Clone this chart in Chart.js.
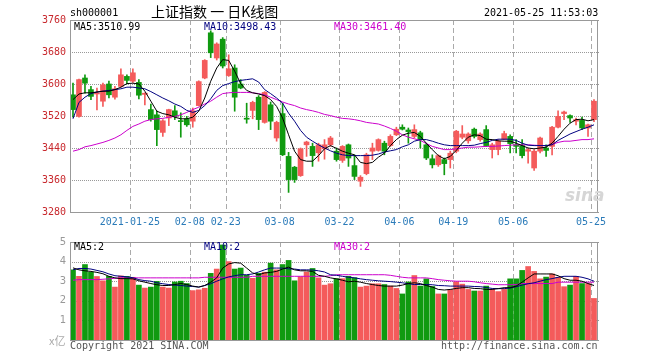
<!DOCTYPE html>
<html>
<head>
<meta charset="utf-8">
<script src="https://cdn.jsdelivr.net/npm/chart.js@4.4.1/dist/chart.umd.min.js"></script>
<style>
body{margin:0;background:#fff;}
#wrap{position:relative;width:660px;height:360px;overflow:hidden;font-family:"DejaVu Sans Mono",monospace;font-size:10px;}
#wrap canvas{position:absolute;left:0;}
.t{position:absolute;white-space:pre;line-height:10px;z-index:2;}
</style>
</head>
<body>
<div id="wrap">
  <canvas id="kChart" width="660" height="232" style="top:0"></canvas>
  <canvas id="volChart" width="660" height="128" style="top:232px"></canvas>

  <div class="t" style="left:70px;top:8px;color:#000">sh000001</div>
  <div class="t" style="left:151px;top:4px;line-height:14px;font-size:14px;font-family:'Noto Sans CJK SC',sans-serif;color:#000">上证指数 一 日K线图</div>
  <div class="t" style="left:484px;top:8px;color:#000">2021-05-25 11:53:03</div>

  <div class="t" style="left:74px;top:22px;color:#000">MA5:3510.99</div>
  <div class="t" style="left:204px;top:22px;color:#000080">MA10:3498.43</div>
  <div class="t" style="left:334px;top:22px;color:#cc00cc">MA30:3461.40</div>

  <div class="t" style="left:565px;top:187px;font:italic bold 17px 'DejaVu Sans',sans-serif;line-height:17px;color:#d6d6d6">sina</div>

  <div class="t" style="left:74px;top:242px;color:#000">MA5:2</div>
  <div class="t" style="left:204px;top:242px;color:#000080">MA10:2</div>
  <div class="t" style="left:334px;top:242px;color:#cc00cc">MA30:2</div>

  <div class="t" style="left:49px;top:335px;font-size:11px;line-height:11px;font-family:'Noto Sans CJK SC',sans-serif;color:#aaa">x亿</div>
  <div class="t" style="left:70px;top:341px;color:#555">Copyright 2021 SINA.COM</div>
  <div class="t" style="left:441px;top:341px;color:#555">http://finance.sina.com.cn</div>
</div>

<script>
/* 交易日 */
const dates = [
  "2021-01-11","2021-01-12","2021-01-13","2021-01-14","2021-01-15","2021-01-18","2021-01-19","2021-01-20","2021-01-21","2021-01-22",
  "2021-01-25","2021-01-26","2021-01-27","2021-01-28","2021-01-29","2021-02-01","2021-02-02","2021-02-03","2021-02-04","2021-02-05",
  "2021-02-08","2021-02-09","2021-02-10","2021-02-18","2021-02-19","2021-02-22","2021-02-23","2021-02-24","2021-02-25","2021-02-26",
  "2021-03-01","2021-03-02","2021-03-03","2021-03-04","2021-03-05","2021-03-08","2021-03-09","2021-03-10","2021-03-11","2021-03-12",
  "2021-03-15","2021-03-16","2021-03-17","2021-03-18","2021-03-19","2021-03-22","2021-03-23","2021-03-24","2021-03-25","2021-03-26",
  "2021-03-29","2021-03-30","2021-03-31","2021-04-01","2021-04-02","2021-04-06","2021-04-07","2021-04-08","2021-04-09","2021-04-12",
  "2021-04-13","2021-04-14","2021-04-15","2021-04-16","2021-04-19","2021-04-20","2021-04-21","2021-04-22","2021-04-23","2021-04-26",
  "2021-04-27","2021-04-28","2021-04-29","2021-04-30","2021-05-06","2021-05-07","2021-05-10","2021-05-11","2021-05-12","2021-05-13",
  "2021-05-14","2021-05-17","2021-05-18","2021-05-19","2021-05-20","2021-05-21","2021-05-24","2021-05-25"
];
const markDates = ["2021-01-25","2021-02-08","2021-02-23","2021-03-08","2021-03-22","2021-04-06","2021-04-19","2021-05-06","2021-05-25"];

/* K线 */
const opens = [
  3573,3519,3615,3586,3575,3557,3600,3567,3594,3619, 3607,3604,3574,3536,3523,3479,3515,3533,3508,3513,
  3507,3546,3615,3728,3665,3712,3621,3640,3600,3514, 3534,3567,3504,3548,3465,3526,3419,3392,3371,3448,
  3444,3428,3438,3448,3432,3409,3448,3396,3357,3376, 3432,3434,3452,3446,3473,3492,3485,3469,3478,3448,
  3413,3398,3411,3411,3432,3467,3458,3487,3461,3486, 3436,3436,3462,3469,3448,3446,3432,3390,3432,3440,
  3444,3492,3526,3521,3507,3509,3490,3511
];
const highs = [
  3602,3612,3623,3594,3590,3602,3607,3594,3638,3623, 3638,3611,3578,3550,3532,3511,3537,3546,3528,3519,
  3540,3608,3661,3733,3703,3716,3673,3648,3611,3552, 3557,3571,3581,3555,3507,3552,3429,3394,3440,3457,
  3452,3452,3461,3469,3440,3446,3450,3423,3371,3427, 3452,3463,3457,3473,3492,3498,3490,3498,3482,3452,
  3423,3423,3415,3432,3484,3496,3478,3490,3478,3496, 3452,3461,3482,3473,3461,3461,3440,3436,3467,3448,
  3494,3533,3532,3523,3515,3517,3500,3561
];
const lows = [
  3517,3517,3577,3561,3535,3544,3565,3562,3592,3600, 3604,3563,3548,3507,3446,3469,3496,3511,3467,3494,
  3492,3545,3613,3666,3660,3640,3619,3532,3588,3502, 3513,3486,3502,3486,3457,3421,3329,3354,3369,3419,
  3394,3407,3412,3444,3407,3404,3394,3361,3344,3373, 3411,3432,3423,3444,3471,3485,3452,3465,3440,3411,
  3390,3394,3373,3390,3428,3463,3452,3465,3457,3444, 3415,3423,3461,3428,3428,3415,3402,3384,3428,3419,
  3423,3490,3511,3504,3498,3486,3469,3506
];
const closes = [
  3536,3611,3602,3569,3578,3598,3573,3588,3623,3609, 3628,3572,3577,3511,3486,3508,3536,3519,3506,3498,
  3533,3606,3659,3678,3700,3645,3638,3567,3590,3512, 3554,3511,3579,3507,3504,3423,3361,3361,3438,3455,
  3421,3448,3448,3465,3411,3444,3415,3369,3367,3423, 3440,3461,3432,3469,3487,3487,3481,3486,3461,3415,
  3398,3421,3401,3427,3482,3475,3475,3469,3475,3446, 3448,3457,3476,3451,3444,3421,3436,3432,3465,3434,
  3492,3519,3530,3515,3511,3490,3498,3557
];

/* 均线 */
const ma5 = [
  3561,3575,3578,3578,3580,3582,3582,3586,3592,3601, 3602,3600,3582,3557,3532,3526,3523,3517,3513,3513,
  3517,3532,3565,3607,3640,3661,3659,3632,3601,3584, 3578,3575,3571,3561,3544,3515,3473,3432,3411,3407,
  3407,3421,3438,3446,3439,3432,3427,3423,3404,3401, 3404,3417,3427,3446,3461,3472,3477,3479,3469,3452,
  3436,3421,3413,3419,3434,3452,3467,3473,3471,3462, 3461,3458,3457,3457,3452,3446,3440,3438,3440,3442,
  3452,3469,3487,3502,3511,3512,3508,3511
];
const ma10 = [
  3513,3554,3567,3576,3580,3582,3584,3586,3588,3592, 3592,3590,3588,3581,3573,3565,3558,3550,3544,3534,
  3529,3534,3546,3563,3584,3596,3601,3606,3609,3611, 3613,3605,3586,3576,3565,3552,3527,3507,3484,3467,
  3457,3448,3440,3433,3427,3423,3421,3421,3421,3421, 3422,3425,3430,3433,3436,3443,3448,3457,3461,3461,
  3457,3452,3448,3446,3446,3446,3446,3447,3451,3454, 3459,3462,3462,3462,3459,3452,3447,3446,3446,3446,
  3448,3459,3467,3475,3481,3487,3492,3498
];
const ma30 = [
  3432,3436,3443,3446,3450,3454,3459,3465,3473,3484, 3494,3500,3507,3511,3513,3514,3517,3519,3523,3529,
  3536,3542,3550,3557,3567,3576,3578,3579,3579,3579, 3578,3576,3573,3567,3561,3555,3550,3546,3540,3536,
  3533,3529,3524,3521,3517,3514,3513,3511,3508,3504, 3502,3500,3495,3489,3482,3473,3467,3463,3459,3451,
  3444,3440,3436,3436,3438,3440,3442,3442,3443,3444, 3444,3445,3446,3447,3448,3448,3448,3447,3446,3446,
  3449,3454,3457,3457,3459,3461,3461,3463
];

/* 成交量 (亿) */
const volumes = [
  3.58,3.25,3.85,3.46,3.24,3.02,3.25,2.70,3.27,3.25, 3.20,2.80,2.65,2.70,2.99,2.70,2.65,2.96,3.00,2.88,
  2.52,2.56,2.64,3.40,3.62,4.85,4.00,3.62,3.67,3.30, 3.15,3.40,3.46,3.92,3.58,3.85,4.06,3.02,3.23,3.47,
  3.65,3.17,2.80,2.87,3.13,3.13,3.25,3.18,2.70,2.75, 2.87,2.87,2.83,2.75,2.63,2.35,2.96,3.29,2.75,3.12,
  2.73,2.35,2.35,2.57,2.97,2.85,2.58,2.50,2.50,2.75, 2.58,2.47,2.58,3.12,3.12,3.55,3.75,3.50,3.12,3.21,
  3.37,3.20,2.72,2.80,3.25,2.88,2.88,2.12
];
const volMa5 = [
  3.68,3.58,3.53,3.50,3.45,3.38,3.25,3.17,3.13,3.13, 3.12,3.02,2.95,2.88,2.82,2.78,2.78,2.83,2.88,2.83,
  2.75,2.70,2.78,2.95,3.17,3.67,3.88,3.95,3.92,3.67, 3.42,3.33,3.42,3.45,3.50,3.62,3.72,3.58,3.53,3.53,
  3.50,3.30,3.25,3.17,3.12,3.05,2.97,3.00,2.95,2.88, 2.83,2.78,2.75,2.75,2.75,2.80,2.88,2.92,2.88,2.78,
  2.70,2.58,2.55,2.58,2.63,2.67,2.67,2.63,2.62,2.58, 2.58,2.62,2.67,2.67,2.75,2.95,3.17,3.37,3.37,3.37,
  3.37,3.28,3.13,3.05,3.05,3.00,2.88,2.78
];
const volMa10 = [
  3.58,3.65,3.65,3.62,3.55,3.48,3.37,3.28,3.25,3.22, 3.18,3.08,3.03,3.00,2.92,2.87,2.83,2.80,2.78,2.75,
  2.73,2.70,2.78,2.87,3.00,3.12,3.22,3.28,3.33,3.33, 3.37,3.47,3.58,3.67,3.67,3.67,3.63,3.62,3.58,3.58,
  3.57,3.53,3.47,3.33,3.30,3.25,3.20,3.17,3.12,3.08, 3.05,3.02,3.00,2.98,2.95,2.92,2.87,2.83,2.83,2.83,
  2.82,2.78,2.77,2.75,2.75,2.75,2.75,2.73,2.72,2.68, 2.63,2.62,2.62,2.65,2.72,2.80,2.87,2.92,3.00,3.08,
  3.13,3.20,3.25,3.25,3.25,3.20,3.12,3.00
];
const volMa30 = [
  3.05,3.08,3.08,3.08,3.08,3.10,3.12,3.15,3.17,3.17, 3.17,3.17,3.17,3.17,3.17,3.17,3.17,3.17,3.17,3.17,
  3.17,3.17,3.20,3.20,3.20,3.20,3.20,3.20,3.20,3.20, 3.25,3.25,3.25,3.25,3.25,3.25,3.25,3.25,3.25,3.25,
  3.25,3.25,3.25,3.28,3.33,3.33,3.33,3.33,3.33,3.33, 3.33,3.33,3.33,3.30,3.25,3.20,3.17,3.17,3.17,3.17,
  3.13,3.08,3.05,3.02,3.00,3.00,3.00,2.97,2.92,2.88, 2.85,2.82,2.82,2.82,2.83,2.88,2.88,2.88,2.88,2.88,
  2.88,2.95,2.95,2.95,2.95,2.95,2.95,2.95
];

/* 样式 */
const RED = "#f45b5b", GREEN = "#109a10";
const MONO = {family:"DejaVu Sans Mono", size:10};
const candleColor = closes.map((c,i)=> c>=opens[i] ? RED : GREEN);
const markIdx = markDates.map(d=>dates.indexOf(d));

/* 网格 + 边框 */
const gridLines = {
  id:"gridLines",
  beforeDatasetsDraw(chart){
    const {ctx, chartArea:a, scales:{x,y}} = chart;
    ctx.save();
    ctx.lineWidth = 1;
    ctx.strokeStyle = "#999";
    ctx.setLineDash([1,1]);
    y.ticks.forEach(t=>{
      const py = Math.round(y.getPixelForValue(t.value))+0.5;
      ctx.beginPath(); ctx.moveTo(a.left, py); ctx.lineTo(a.right+3, py); ctx.stroke();
    });
    ctx.strokeStyle = "#aaa";
    ctx.setLineDash([5,3]);
    const half = (x.getPixelForValue(1)-x.getPixelForValue(0))/2;
    markIdx.forEach(i=>{
      const px = Math.round(x.getPixelForValue(i)-half)+0.5;
      ctx.beginPath(); ctx.moveTo(px, a.top); ctx.lineTo(px, a.bottom); ctx.stroke();
    });
    ctx.restore();
  },
  afterDatasetsDraw(chart){
    const {ctx, chartArea:a} = chart;
    ctx.save();
    ctx.strokeStyle = "#999";
    ctx.lineWidth = 1;
    ctx.strokeRect(Math.round(a.left)+0.5, Math.round(a.top)+0.5, Math.round(a.width), Math.round(a.height));
    ctx.restore();
  }
};

const lineDs = (data,color)=>({type:"line",data,borderColor:color,borderWidth:1,pointRadius:0,tension:0,order:0});

const xScale = (showTicks)=>({
  offset:true,
  grid:{display:false,drawTicks:false},
  border:{display:false},
  ticks:{
    display:showTicks,autoSkip:false,minRotation:0,maxRotation:0,padding:4,labelOffset:-3,
    color:"#2b7bb9",font:MONO,
    callback:(v,i)=> markIdx.includes(i) ? (i===markIdx[0] ? dates[i] : dates[i].slice(5)) : ""
  },
  afterFit:s=>{ s.height = showTicks ? 20 : 0; }
});

/* 日K */
new Chart(document.getElementById("kChart"),{
  type:"bar",
  data:{
    labels:dates,
    datasets:[
      lineDs(ma5,"#000"),
      lineDs(ma10,"#000080"),
      lineDs(ma30,"#cc00cc"),
      {data:opens.map((o,i)=>[o,closes[i]]),backgroundColor:candleColor,barThickness:5,minBarLength:1,grouped:false,order:1},
      {data:lows.map((l,i)=>[l,highs[i]]),backgroundColor:candleColor,barThickness:1,grouped:false,order:2}
    ]
  },
  options:{
    responsive:false,animation:false,
    layout:{padding:{left:0,right:63,top:20,bottom:0}},
    plugins:{legend:{display:false},tooltip:{enabled:false}},
    scales:{
      x:xScale(true),
      y:{
        min:3280,max:3760,
        ticks:{stepSize:80,padding:4,color:"#c8282d",font:MONO,callback:v=>String(v)},
        grid:{display:false,drawTicks:false},
        border:{display:false},
        afterFit:s=>{ s.width = 70; }
      }
    }
  },
  plugins:[gridLines]
});

/* 成交量 */
new Chart(document.getElementById("volChart"),{
  type:"bar",
  data:{
    labels:dates,
    datasets:[
      lineDs(volMa5,"#000"),
      lineDs(volMa10,"#000080"),
      lineDs(volMa30,"#cc00cc"),
      {data:volumes,backgroundColor:candleColor,barThickness:5,grouped:false,order:1}
    ]
  },
  options:{
    responsive:false,animation:false,
    layout:{padding:{left:0,right:63,top:8,bottom:20}},
    plugins:{legend:{display:false},tooltip:{enabled:false}},
    scales:{
      x:xScale(false),
      y:{
        min:0,max:5,
        ticks:{stepSize:1,padding:4,color:"#999",font:{family:"DejaVu Sans",size:10},callback:v=> v===0 ? "" : String(v)},
        grid:{display:false,drawTicks:false},
        border:{display:false},
        afterFit:s=>{ s.width = 70; }
      }
    }
  },
  plugins:[gridLines]
});
</script>
</body>
</html>
